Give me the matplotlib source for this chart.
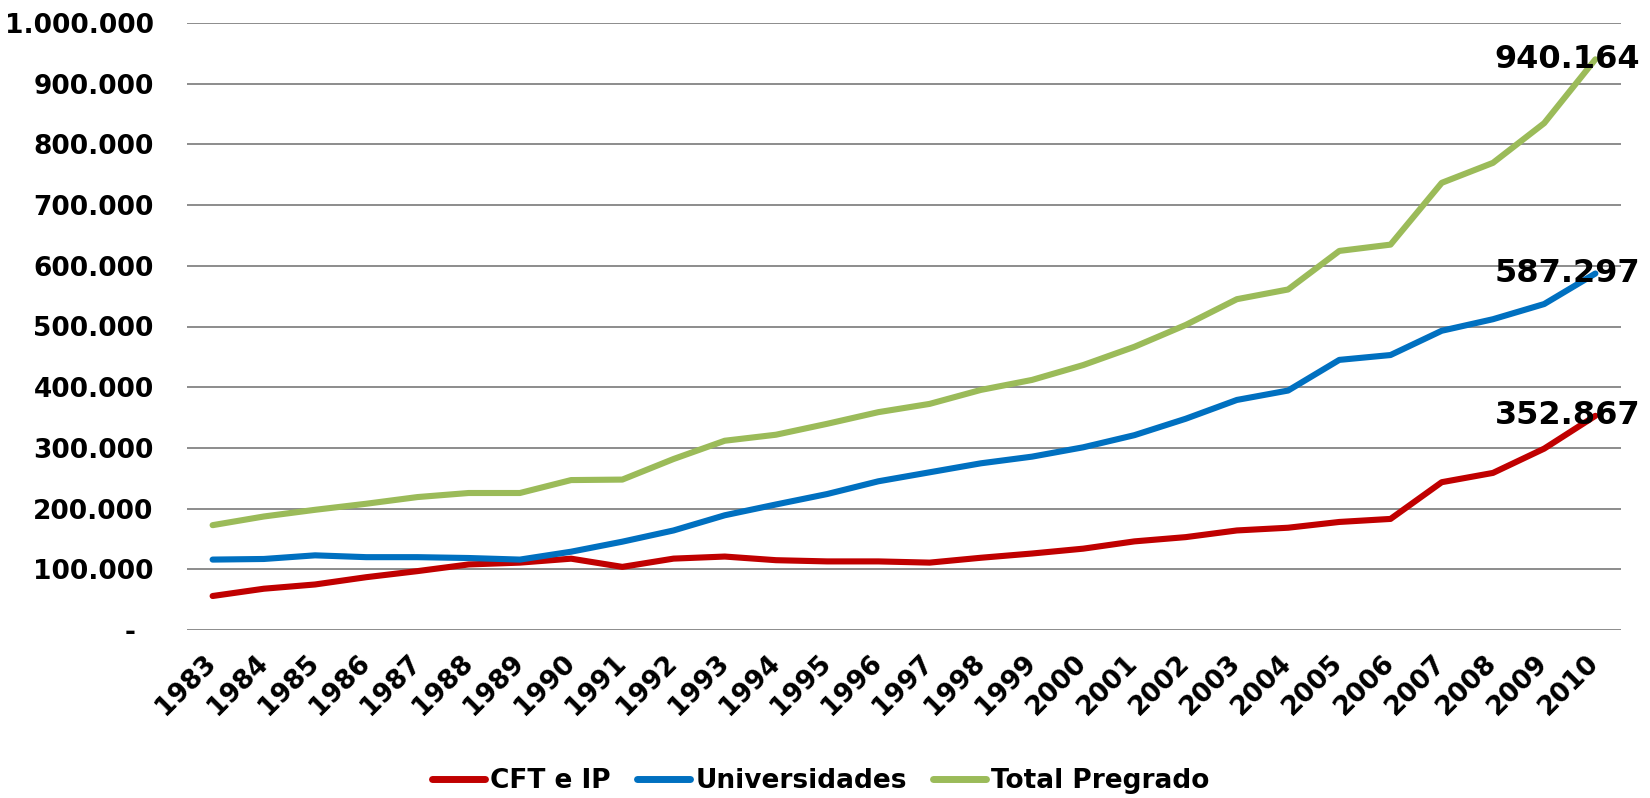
import matplotlib
matplotlib.use("Agg")
import matplotlib.pyplot as plt
from matplotlib.ticker import FixedLocator, FuncFormatter

years = [str(y) for y in range(1983, 2011)]
cft_ip = [56000, 68000, 75000, 87000, 97000, 108000, 111000, 117500, 104000, 117600,
          121000, 115000, 113000, 113000, 111000, 119000, 126000, 134000, 146000, 153000,
          164000, 168500, 178000, 183000, 243500, 258800, 298800, 352867]
universidades = [116000, 117000, 123000, 120000, 120000, 118600, 116000, 129000, 145500, 164000,
                 189000, 206800, 224000, 245000, 259800, 274600, 285600, 301000, 321000, 348000,
                 379000, 394500, 445000, 453000, 493000, 512000, 537000, 587297]
total_pregrado = [172700, 187000, 198000, 208000, 219000, 225700, 225700, 247000, 247800, 281700,
                  311800, 321700, 339700, 358900, 372500, 395500, 412000, 436500, 466600, 502500,
                  545000, 561000, 624500, 634900, 736700, 769600, 835000, 940164]
series_names = ["CFT e IP", "Universidades", "Total Pregrado"]
series_colors = ["#C00000", "#0070C0", "#9BBB59"]
y_ticks = [0, 100000, 200000, 300000, 400000, 500000, 600000, 700000, 800000, 900000, 1000000]

plt.rcParams["font.family"] = ["DejaVu Sans"]
plt.rcParams["font.weight"] = "bold"

fig = plt.figure(figsize=(16.5, 7.98), dpi=100)
ax = fig.add_axes([187 / 1650, 1 - 630 / 798, (1621 - 187) / 1650, (630 - 23) / 798])

x = list(range(len(years)))
for vals, name, col in zip([cft_ip, universidades, total_pregrado], series_names, series_colors):
    ax.plot(x, vals, color=col, lw=4.4, label=name, solid_capstyle="round", zorder=3)

ax.set_xlim(-0.5, len(years) - 0.5)
ax.set_ylim(0, 1000000)
ax.yaxis.set_major_locator(FixedLocator(y_ticks))


def fmt(v, pos):
    if v == 0:
        return "-  "
    return f"{int(round(v)):,}".replace(",", ".")


ax.yaxis.set_major_formatter(FuncFormatter(fmt))
ax.grid(axis="y", color="#8C8C8C", lw=1.4, zorder=0)
for s in ax.spines.values():
    s.set_visible(False)
ax.tick_params(axis="both", length=0, labelsize=19)
ax.tick_params(axis="y", pad=24)
ax.set_xticks(x)
ax.set_xticklabels(years, rotation=45, ha="right", va="center", rotation_mode="anchor")
ax.tick_params(axis="x", pad=21)
for lbl in ax.get_xticklabels() + ax.get_yticklabels():
    lbl.set_fontweight("bold")

for vals in [total_pregrado, universidades, cft_ip]:
    v = vals[-1]
    ax.annotate(f"{v:,}".replace(",", "."), xy=(x[-1], v), xytext=(-20, 0),
                textcoords="offset points", ha="center", va="center",
                fontsize=23, fontweight="bold", zorder=4)

leg = fig.legend(loc="center", bbox_to_anchor=(0.4976, 0.021), ncol=3, frameon=False,
                 prop={"size": 19, "weight": "bold"}, handlelength=2.0, handletextpad=0.2,
                 columnspacing=1.0)
for h in leg.get_lines():
    h.set_linewidth(5)

fig.savefig("out.png", dpi=100)
